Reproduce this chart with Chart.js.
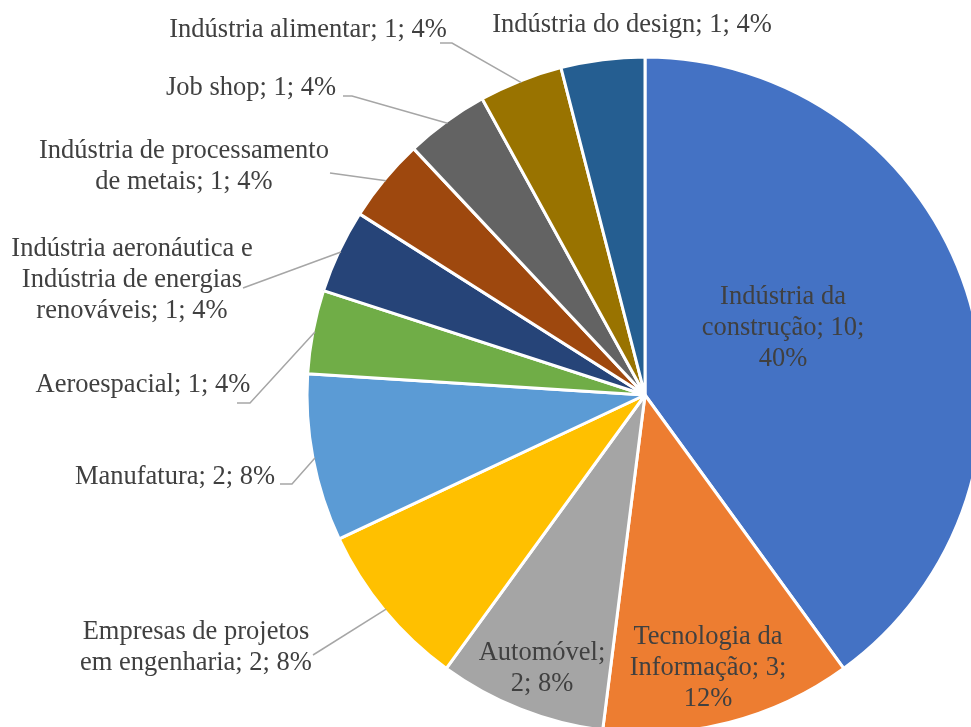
<!DOCTYPE html>
<html>
<head>
<meta charset="utf-8">
<script src="https://cdn.jsdelivr.net/npm/chart.js@4.4.1/dist/chart.umd.min.js"></script>
<style>
  html, body { margin: 0; padding: 0; background: #fff; overflow: hidden; width: 971px; height: 727px; }
  canvas { position: absolute; left: 0; top: 0; }
</style>
</head>
<body>
<canvas id="pieChart" width="1290" height="790"></canvas>
<script>
const categories = [
  'Indústria da construção',
  'Tecnologia da Informação',
  'Automóvel',
  'Empresas de projetos em engenharia',
  'Manufatura',
  'Aeroespacial',
  'Indústria aeronáutica e Indústria de energias renováveis',
  'Indústria de processamento de metais',
  'Job shop',
  'Indústria alimentar',
  'Indústria do design'
];
const counts = [10, 3, 2, 2, 2, 1, 1, 1, 1, 1, 1];
const sliceColors = [
  '#4472C4', '#ED7D31', '#A5A5A5', '#FFC000', '#5B9BD5', '#70AD47',
  '#264478', '#9E480E', '#636363', '#997300', '#255E91'
];

// where each label sits, relative to the pie centre, plus wrap width and leader start
const labelLayout = [
  { dx: 138, dy: -67, wrap: 170 },
  { dx: 63, dy: 273, wrap: 170 },
  { dx: -103, dy: 274, wrap: 140 },
  { dx: -449, dy: 253, wrap: 240, leader: [-332, 260], tick: 0 },
  { dx: -470, dy: 82, wrap: 400, leader: [-365, 89], tick: 12 },
  { dx: -502, dy: -10, wrap: 400, leader: [-408, 8], tick: 13 },
  { dx: -513, dy: -115, wrap: 250, leader: [-402, -107], tick: 0 },
  { dx: -461, dy: -228, wrap: 300, leader: [-315, -222], tick: 0 },
  { dx: -394, dy: -307, wrap: 400, leader: [-302, -299], tick: 9 },
  { dx: -337, dy: -365, wrap: 400, leader: [-205, -352], tick: 12 },
  { dx: -13, dy: -370, wrap: 400 }
];

const lineHeight = 31;

function wrapText(ctx, text, maxWidth) {
  const words = text.split(' ');
  const lines = [];
  let cur = '';
  words.forEach(w => {
    const test = cur ? cur + ' ' + w : w;
    if (cur && ctx.measureText(test).width > maxWidth) {
      lines.push(cur);
      cur = w;
    } else {
      cur = test;
    }
  });
  if (cur) lines.push(cur);
  return lines;
}

const pieLabels = {
  id: 'pieLabels',
  afterDatasetsDraw(chart) {
    const ctx = chart.ctx;
    const arcs = chart.getDatasetMeta(0).data;
    const total = counts.reduce((a, b) => a + b, 0);
    ctx.save();
    ctx.font = '26.5px "Liberation Serif", "Times New Roman", serif';
    ctx.textAlign = 'center';
    ctx.textBaseline = 'middle';
    arcs.forEach((arc, i) => {
      const { x, y, startAngle, endAngle, outerRadius } =
        arc.getProps(['x', 'y', 'startAngle', 'endAngle', 'outerRadius'], true);
      const spot = labelLayout[i];

      if (spot.leader) {
        const mid = (startAngle + endAngle) / 2;
        const ex = x + Math.cos(mid) * (outerRadius - 2);
        const ey = y + Math.sin(mid) * (outerRadius - 2);
        const sx = x + spot.leader[0];
        const sy = y + spot.leader[1];
        ctx.beginPath();
        ctx.strokeStyle = '#A6A6A6';
        ctx.lineWidth = 1.5;
        ctx.moveTo(sx, sy);
        ctx.lineTo(sx + spot.tick, sy);
        ctx.lineTo(ex, ey);
        ctx.stroke();
      }

      const text = `${categories[i]}; ${counts[i]}; ${Math.round(counts[i] / total * 100)}%`;
      const lines = wrapText(ctx, text, spot.wrap);
      const cx = x + spot.dx;
      const cy = y + spot.dy;
      ctx.fillStyle = '#404040';
      lines.forEach((ln, k) => {
        ctx.fillText(ln, cx, cy + (k - (lines.length - 1) / 2) * lineHeight);
      });
    });
    ctx.restore();
  }
};

new Chart(document.getElementById('pieChart'), {
  type: 'pie',
  data: {
    labels: categories,
    datasets: [{
      data: counts,
      backgroundColor: sliceColors,
      borderColor: '#ffffff',
      borderWidth: 3
    }]
  },
  options: {
    responsive: false,
    animation: false,
    events: [],
    radius: 338,
    layout: { padding: 0 },
    plugins: {
      legend: { display: false },
      tooltip: { enabled: false }
    }
  },
  plugins: [pieLabels]
});
</script>
</body>
</html>
